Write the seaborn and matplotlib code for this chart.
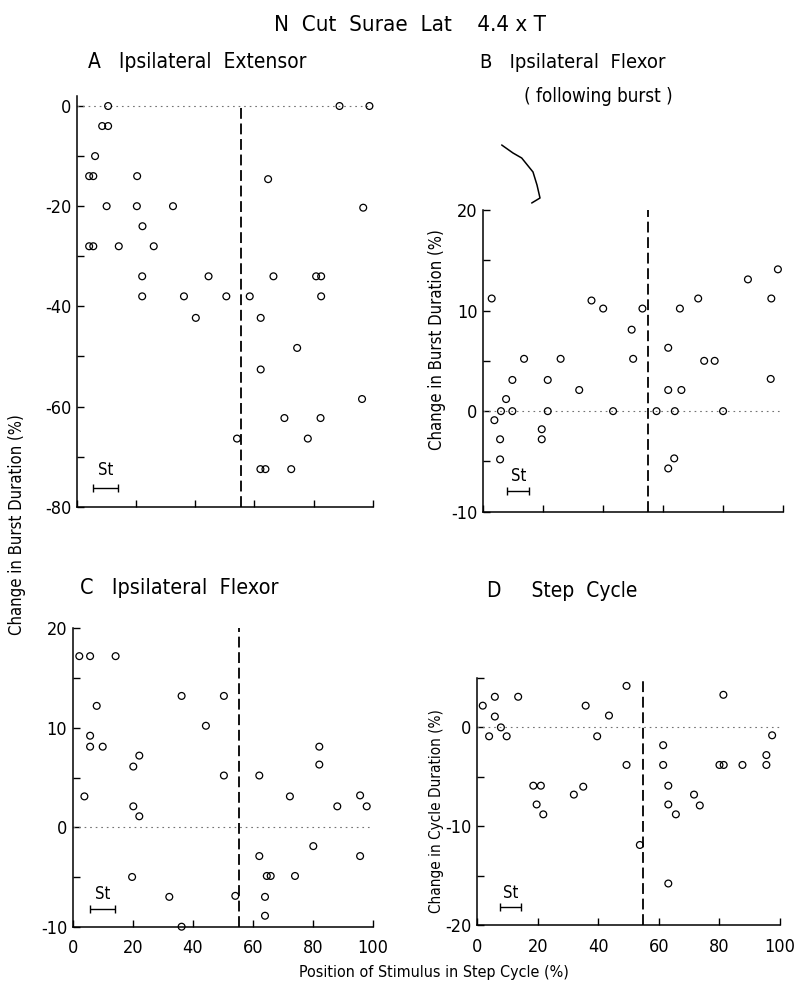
import matplotlib
matplotlib.use("Agg")
import matplotlib.pyplot as plt
import numpy as np
import pandas as pd
import seaborn as sns
from matplotlib import font_manager
from matplotlib.lines import Line2D

# ---------------- data ----------------
a_x = [10.6, 88.7, 98.8,
       8.6, 10.6,
       6.2,
       4.2, 5.6, 20.4, 64.6,
       10.1, 20.3, 32.5, 96.7,
       22.2,
       4.2, 5.6, 14.2, 26.0,
       22.1, 44.5, 66.4, 80.8, 82.5,
       22.1, 36.2, 50.5, 58.4, 82.5,
       40.2, 62.1,
       74.4,
       62.1,
       96.3,
       70.1, 82.3,
       54.1, 78.0,
       62.0, 63.7, 72.4]
a_y = [0, 0, 0,
       -4, -4,
       -10,
       -14, -14, -14, -14.6,
       -20, -20, -20, -20.3,
       -24,
       -28, -28, -28, -28,
       -34, -34, -34, -34, -34,
       -38, -38, -38, -38, -38,
       -42.3, -42.3,
       -48.3,
       -52.6,
       -58.5,
       -62.3, -62.3,
       -66.4, -66.4,
       -72.5, -72.5, -72.5]

b_x = [98.3, 88.3, 2.8, 71.7, 96.1, 36.1, 40.0, 53.1, 65.6, 49.5, 61.7,
       13.6, 25.8, 50.0, 73.7, 77.2, 9.7, 21.5, 95.9, 32.0, 61.7, 66.1, 7.6,
       5.9, 9.7, 21.5, 43.3, 57.8, 63.9, 80.0, 3.7, 19.5, 5.6, 19.5,
       5.6, 63.7, 61.7]
b_y = [14.1, 13.1, 11.2, 11.2, 11.2, 11.0, 10.2, 10.2, 10.2, 8.1, 6.3,
       5.2, 5.2, 5.2, 5.0, 5.0, 3.1, 3.1, 3.2, 2.1, 2.1, 2.1, 1.2,
       0, 0, 0, 0, 0, 0, 0, -0.9, -1.8, -2.8, -2.8,
       -4.8, -4.7, -5.7]

c_x = [2.2, 5.8, 14.3, 36.3, 50.4, 8.0, 44.4, 5.8, 5.8, 10.0, 82.2, 22.2,
       20.2, 82.2, 50.4, 62.2, 3.9, 72.4, 95.8, 20.2, 88.2, 98.0, 22.2,
       80.2, 62.2, 95.8, 19.8, 64.7, 66.0, 74.1, 32.2, 54.2, 64.1, 64.1, 36.3]
c_y = [17.2, 17.2, 17.2, 13.2, 13.2, 12.2, 10.2, 9.2, 8.1, 8.1, 8.1, 7.2,
       6.1, 6.3, 5.2, 5.2, 3.1, 3.1, 3.2, 2.1, 2.1, 2.1, 1.1,
       -1.9, -2.9, -2.9, -5.0, -4.9, -4.9, -4.9, -7.0, -6.9, -7.0, -8.9, -10.0]

d_x = [49.3, 81.3, 5.8, 13.5, 1.8, 35.8, 5.8, 43.5, 7.8,
       3.9, 9.7, 39.6, 97.4, 61.4, 95.5,
       49.3, 61.4, 80.0, 81.4, 87.6, 95.5,
       18.5, 21.0, 63.1, 35.0, 31.9, 71.6, 19.6, 63.1, 73.5,
       21.8, 65.6, 53.7, 63.1]
d_y = [4.2, 3.3, 3.1, 3.1, 2.2, 2.2, 1.1, 1.2, 0.0,
       -0.9, -0.9, -0.9, -0.8, -1.8, -2.8,
       -3.8, -3.8, -3.8, -3.8, -3.8, -3.8,
       -5.9, -5.9, -5.9, -6.0, -6.8, -6.8, -7.8, -7.8, -7.9,
       -8.8, -8.8, -11.9, -15.8]

x_ticks = [0, 20, 40, 60, 80, 100]
x_ticklabels = ["0", "20", "40", "60", "80", "100"]
dash_pos = {"A": 55.5, "B": 55.0, "C": 55.4, "D": 54.6}

# ---------------- style ----------------
sns.set_theme(style="white")
names = {f.name for f in font_manager.fontManager.ttflist}
fam = [n for n in ["Liberation Sans Narrow", "DejaVu Sans"] if n in names]
plt.rcParams["font.family"] = fam
plt.rcParams["font.stretch"] = "condensed"
for k in ["text.color", "axes.labelcolor", "xtick.color", "ytick.color"]:
    plt.rcParams[k] = "black"

W, H = 795, 990
fig = plt.figure(figsize=(W / 100, H / 100), dpi=100)
fig.patch.set_facecolor("white")


def place(l, r, t, b):
    return fig.add_axes([l / W, 1 - b / H, (r - l) / W, (b - t) / H])


def style_axis(ax, ylim, yticks, ylabels_at, show_xlabels, dash, dash_top, st):
    ax.set_xlim(0, 100)
    ax.set_ylim(*ylim)
    ax.set_facecolor("white")
    for s in ["top", "right"]:
        ax.spines[s].set_visible(False)
    for s in ["left", "bottom"]:
        ax.spines[s].set_color("black")
        ax.spines[s].set_linewidth(1.1)
    ax.set_xticks(x_ticks)
    if show_xlabels:
        ax.set_xticklabels(x_ticklabels, fontsize=13)
    else:
        ax.set_xticklabels([])
    ax.set_yticks(yticks)
    ax.set_yticklabels([str(v) if v in ylabels_at else "" for v in yticks], fontsize=13)
    ax.tick_params(axis="both", direction="in", length=5, width=1, colors="black",
                   left=True, bottom=True)
    ax.tick_params(axis="x", pad=9)
    ax.tick_params(axis="y", pad=4)
    ax.set_xlabel("")
    ax.set_ylabel("")
    ax.axhline(0, color="0.45", lw=0.8, ls=(0, (1.5, 3.5)), zorder=1)
    ax.plot([dash, dash], [ylim[0], dash_top],
            color="black", lw=1.3, ls=(0, (6, 2.6)), zorder=2)
    x0, x1, yb = st
    ax.errorbar((x0 + x1) / 2, yb, xerr=(x1 - x0) / 2, fmt="none", ecolor="black",
                elinewidth=1, capsize=3, capthick=1)
    ax.text((x0 + x1) / 2, yb + (ylim[1] - ylim[0]) * 0.02, "St", ha="center",
            va="bottom", fontsize=12)


def scatter(ax, xs, ys):
    df = pd.DataFrame({"pos": xs, "chg": ys})
    sns.scatterplot(data=df, x="pos", y="chg", ax=ax, marker="o", s=24,
                    facecolor="none", edgecolor="black", linewidth=0.9,
                    zorder=3, clip_on=False)


# Panel A
axA = place(76.7, 373, 96, 506.7)
scatter(axA, a_x, a_y)
style_axis(axA, (-80, 2), list(range(-80, 1, 10)), [-80, -60, -40, -20, 0],
           False, dash_pos["A"], 0, (5.6, 13.8, -76.2))

# Panel B
axB = place(483.3, 783, 210, 511.7)
scatter(axB, b_x, b_y)
style_axis(axB, (-10, 20), list(range(-10, 21, 5)), [-10, 0, 10, 20],
           False, dash_pos["B"], 20, (8.0, 15.3, -7.9))

# Panel C
axC = place(72.7, 372.7, 628.3, 926.7)
scatter(axC, c_x, c_y)
style_axis(axC, (-10, 20), list(range(-10, 21, 5)), [-10, 0, 10, 20],
           True, dash_pos["C"], 20, (5.8, 14.1, -8.2))

# Panel D
axD = place(477.3, 780, 678, 925)
scatter(axD, d_x, d_y)
style_axis(axD, (-20, 5), list(range(-20, 6, 5)), [-20, -10, 0],
           True, dash_pos["D"], 5, (7.5, 14.6, -18.2))

# ---------------- texts ----------------
def ftext(x, y, s, **kw):
    fig.text(x / W, 1 - y / H, s, **kw)


ftext(410, 25, "N  Cut  Surae  Lat    4.4 x T", ha="center", va="center", fontsize=16)
ftext(88, 62, "A   Ipsilateral  Extensor", ha="left", va="center", fontsize=15)
ftext(480, 62, "B   Ipsilateral  Flexor", ha="left", va="center", fontsize=14.5)
ftext(524, 96, "( following burst )", ha="left", va="center", fontsize=13.5)
ftext(80, 588, "C   Ipsilateral  Flexor", ha="left", va="center", fontsize=15.5)
ftext(487, 591, "D     Step  Cycle", ha="left", va="center", fontsize=15)
ftext(17, 525, "Change in Burst Duration (%)", rotation=90, ha="center",
      va="center", fontsize=12)
ftext(437, 340, "Change in Burst Duration (%)", rotation=90, ha="center",
      va="center", fontsize=12)
ftext(436, 811, "Change in Cycle Duration (%)", rotation=90, ha="center",
      va="center", fontsize=11)
ftext(434, 973, "Position of Stimulus in Step Cycle (%)", ha="center",
      va="center", fontsize=11.5)

# hand-drawn bracket stroke near panel B
bx = [501.7, 513, 521.7, 533, 537, 540, 531.7]
by = [145, 153, 158, 172, 185, 198, 203]
fig.add_artist(Line2D([v / W for v in bx], [1 - v / H for v in by],
                      transform=fig.transFigure, color="black", lw=1.1))

fig.savefig("out.png", dpi=100, facecolor="white")
